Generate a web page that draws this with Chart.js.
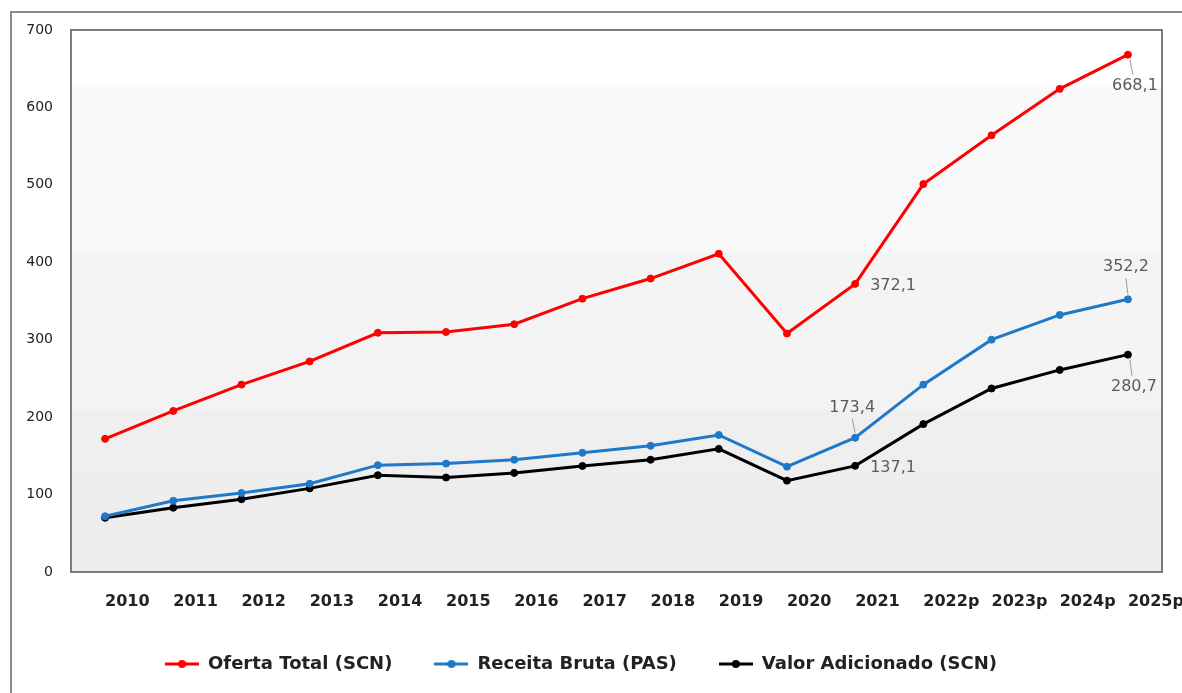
<!DOCTYPE html>
<html>
<head>
<meta charset="utf-8">
<script src="https://cdn.jsdelivr.net/npm/chart.js@4.4.1/dist/chart.umd.min.js"></script>
<style>
  html, body { margin: 0; padding: 0; background: #ffffff; }
  #wrap { position: relative; width: 1182px; height: 693px; }
  canvas { display: block; }
</style>
</head>
<body>
<div id="wrap"><canvas id="c" width="1182" height="693"></canvas></div>
<script>
const categories = ['2010','2011','2012','2013','2014','2015','2016','2017','2018','2019','2020','2021','2022p','2023p','2024p','2025p'];
const ofertaTotal = [172, 208, 242, 272, 309, 310, 320, 353, 379, 411, 308, 372.1, 501, 564, 624, 668.1];
const receitaBruta = [72, 92, 102, 114, 138, 140, 145, 154, 163, 177, 136, 173.4, 242, 300, 332, 352.2];
const valorAdicionado = [70, 83, 94, 108, 125, 122, 128, 137, 145, 159, 118, 137.1, 191, 237, 261, 280.7];
const seriesNames = ['Oferta Total (SCN)', 'Receita Bruta (PAS)', 'Valor Adicionado (SCN)'];
const seriesColors = ['#ff0000', '#1f78c8', '#000000'];
const yTicks = [0, 100, 200, 300, 400, 500, 600, 700];

// annotations: dataset index, point index, text, offsets
const annotations = [
  { ds: 0, i: 15, text: '668,1', dx: 7, dy: 31, align: 'center', leader: true },
  { ds: 0, i: 11, text: '372,1', dx: 15, dy: 2, align: 'left', leader: false },
  { ds: 1, i: 15, text: '352,2', dx: -2, dy: -32, align: 'center', leader: true },
  { ds: 1, i: 11, text: '173,4', dx: -3, dy: -30, align: 'center', leader: true },
  { ds: 2, i: 11, text: '137,1', dx: 15, dy: 2, align: 'left', leader: false },
  { ds: 2, i: 15, text: '280,7', dx: 6, dy: 32, align: 'center', leader: true }
];

Chart.defaults.font.family = "'DejaVu Sans', sans-serif";

function makeIcon(color) {
  const cv = document.createElement('canvas');
  cv.width = 34; cv.height = 12;
  const g = cv.getContext('2d');
  g.strokeStyle = color; g.lineWidth = 3;
  g.beginPath(); g.moveTo(0, 6); g.lineTo(34, 6); g.stroke();
  g.fillStyle = color;
  g.beginPath(); g.arc(17, 6, 4, 0, Math.PI * 2); g.fill();
  return cv;
}
const legendIcons = seriesColors.map(makeIcon);

const framePlugin = {
  id: 'frame',
  beforeDraw(chart) {
    const ctx = chart.ctx;
    const a = chart.chartArea;
    ctx.save();
    ctx.strokeStyle = '#8a8a8a';
    ctx.lineWidth = 2;
    ctx.beginPath();
    ctx.moveTo(11, 693); ctx.lineTo(11, 12); ctx.lineTo(1182, 12);
    ctx.stroke();
    const h = a.bottom - a.top;
    const grad = ctx.createLinearGradient(0, a.top, 0, a.bottom);
    grad.addColorStop(0, '#ffffff');
    grad.addColorStop(0.105, '#ffffff');
    grad.addColorStop(0.106, '#f9f9f9');
    grad.addColorStop(0.41, '#f8f8f8');
    grad.addColorStop(0.412, '#f4f4f4');
    grad.addColorStop(0.70, '#f3f3f3');
    grad.addColorStop(0.702, '#efefef');
    grad.addColorStop(1, '#ededed');
    ctx.fillStyle = grad;
    ctx.fillRect(a.left, a.top, a.right - a.left, h);
    ctx.restore();
  },
  afterDraw(chart) {
    const ctx = chart.ctx;
    const a = chart.chartArea;
    ctx.save();
    ctx.strokeStyle = '#7a7a7a';
    ctx.lineWidth = 2;
    ctx.strokeRect(a.left, a.top, a.right - a.left, a.bottom - a.top);
    ctx.restore();
  }
};

const labelPlugin = {
  id: 'valueLabels',
  afterDatasetsDraw(chart) {
    const ctx = chart.ctx;
    ctx.save();
    ctx.font = "16px 'DejaVu Sans'";
    ctx.fillStyle = '#5a5a5a';
    ctx.textBaseline = 'middle';
    annotations.forEach(an => {
      const el = chart.getDatasetMeta(an.ds).data[an.i];
      const px = el.x, py = el.y;
      const tx = px + an.dx, ty = py + an.dy;
      ctx.textAlign = an.align;
      ctx.fillText(an.text, tx, ty);
      if (an.leader) {
        ctx.strokeStyle = '#9a9a9a';
        ctx.lineWidth = 1;
        ctx.beginPath();
        const dir = an.dy > 0 ? 1 : -1;
        ctx.moveTo(px + (an.dx > 0 ? 2 : 0), py + dir * 5);
        ctx.lineTo(tx - (an.dx > 0 ? 2 : 0), ty - dir * 11);
        ctx.stroke();
      }
    });
    ctx.restore();
  }
};

new Chart(document.getElementById('c'), {
  type: 'line',
  data: {
    labels: categories,
    datasets: [ofertaTotal, receitaBruta, valorAdicionado].map((d, k) => ({
      label: seriesNames[k],
      data: d,
      borderColor: seriesColors[k],
      backgroundColor: seriesColors[k],
      pointBackgroundColor: seriesColors[k],
      pointBorderColor: seriesColors[k],
      borderWidth: 3,
      pointRadius: 3.5,
      pointBorderWidth: 1,
      pointHoverRadius: 3.5,
      tension: 0,
      fill: false
    }))
  },
  options: {
    responsive: false,
    animation: false,
    events: [],
    layout: { padding: { top: 30, left: 0, right: 20, bottom: 10 } },
    scales: {
      x: {
        offset: true,
        grid: { display: false, drawTicks: false },
        border: { display: false },
        ticks: {
          align: 'start',
          padding: 20,
          maxRotation: 0,
          autoSkip: false,
          color: '#222222',
          font: { size: 16, weight: 'bold' }
        },
        afterFit(s) { s.height = 41; s.paddingLeft = 0; s.paddingRight = 0; }
      },
      y: {
        min: 0, max: 700,
        afterBuildTicks(s) { s.ticks = yTicks.map(v => ({ value: v })); },
        grid: { display: false, drawTicks: false },
        border: { display: false },
        ticks: { padding: 18, color: '#222222', font: { size: 14 } },
        afterFit(s) { s.width = 71; }
      }
    },
    plugins: {
      tooltip: { enabled: false },
      legend: {
        position: 'bottom',
        labels: {
          usePointStyle: true,
          pointStyleWidth: 34,
          padding: 42,
          color: '#222222',
          font: { size: 18, weight: 'bold' },
          generateLabels(chart) {
            const items = Chart.defaults.plugins.legend.labels.generateLabels(chart);
            items.forEach((it, i) => { it.pointStyle = legendIcons[i]; });
            return items;
          }
        }
      }
    }
  },
  plugins: [framePlugin, labelPlugin]
});
</script>
</body>
</html>
